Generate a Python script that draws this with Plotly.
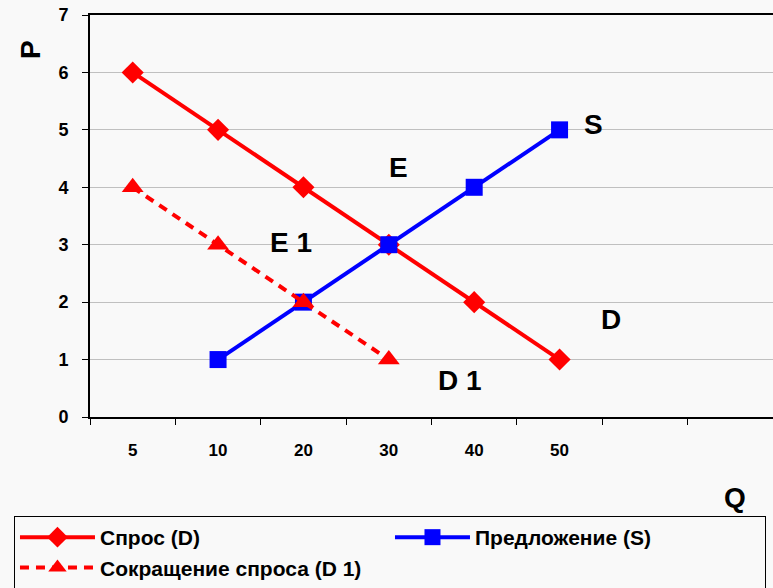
import plotly.graph_objects as go

# categories on the Q axis (two empty slots on the right, as in the source chart)
q_cats = ["5", "10", "20", "30", "40", "50", " ", "  "]

demand_q = ["5", "10", "20", "30", "40", "50"]
demand_p = [6, 5, 4, 3, 2, 1]

supply_q = ["10", "20", "30", "40", "50"]
supply_p = [1, 2, 3, 4, 5]

demand1_q = ["5", "10", "20", "30"]
demand1_p = [4, 3, 2, 1]

FONT = "Liberation Sans, Arial, sans-serif"
RED = "#ff0000"
BLUE = "#0000ff"
BG = "#f9f9f9"

fig = go.Figure()

fig.add_trace(go.Scatter(
    x=demand_q, y=demand_p, name="Спрос (D)", mode="lines+markers",
    line=dict(color=RED, width=4),
    marker=dict(symbol="diamond", size=17, color=RED)))

fig.add_trace(go.Scatter(
    x=supply_q, y=supply_p, name="Предложение (S)", mode="lines+markers",
    line=dict(color=BLUE, width=4),
    marker=dict(symbol="square", size=17, color=BLUE)))

fig.add_trace(go.Scatter(
    x=demand1_q, y=demand1_p, name="Сокращение спроса (D 1)", mode="lines+markers",
    line=dict(color=RED, width=4, dash="9px,7px"),
    marker=dict(symbol="triangle-up", size=19, color=RED)))

# curve / point labels
labels = [("S", 5.40, 5.10), ("E", 3.11, 4.35), ("E 1", 1.86, 3.03),
          ("D", 5.60, 1.69), ("D 1", 3.83, 0.64)]
for txt, lx, ly in labels:
    fig.add_annotation(x=lx, y=ly, text=txt, showarrow=False,
                       xanchor="center", yanchor="middle",
                       font=dict(family=FONT, size=28, color="black", weight="bold"))

fig.add_annotation(text="P", xref="paper", yref="paper", x=-0.088, y=0.915,
                   xanchor="center", yanchor="middle", textangle=-90, showarrow=False,
                   font=dict(family=FONT, size=28, color="black", weight="bold"))
fig.add_annotation(text="Q", xref="paper", yref="paper", x=0.944, y=-0.2,
                   xanchor="center", yanchor="middle", showarrow=False,
                   font=dict(family=FONT, size=28, color="black", weight="bold"))

fig.update_layout(
    width=773, height=588,
    margin=dict(l=90, r=0, t=15, b=171, autoexpand=False),
    paper_bgcolor=BG, plot_bgcolor=BG,
    font=dict(family=FONT, size=18, color="black"),
    showlegend=True,
    legend=dict(orientation="h", x=-0.1113, y=-0.2463, xanchor="left", yanchor="top",
                bordercolor="black", borderwidth=1, bgcolor=BG,
                itemwidth=75, entrywidth=285, entrywidthmode="pixels",
                tracegroupgap=0,
                font=dict(family=FONT, size=21, weight="bold")),
)

fig.update_xaxes(
    type="category", categoryorder="array", categoryarray=q_cats,
    range=[-0.5, 7.5], tickson="boundaries", ticks="outside", ticklen=6,
    tickcolor="black", showgrid=False, showline=True, linecolor="black",
    linewidth=2, mirror=True, zeroline=False, ticklabelstandoff=17,
    tickfont=dict(family=FONT, size=17, weight="bold"))

fig.update_yaxes(
    range=[0, 7], dtick=1, ticks="outside", ticklen=6, tickcolor="black",
    showgrid=True, gridcolor="#c0c0c0", gridwidth=1, showline=True,
    linecolor="black", linewidth=2, zeroline=False, ticklabelstandoff=10,
    tickfont=dict(family=FONT, size=18, weight="bold"))

# page body has a default margin; drop it so the figure sits at the top-left corner
fig.write_html("out.html", config={"displayModeBar": False},
               post_script="document.body.style.margin='0';")
